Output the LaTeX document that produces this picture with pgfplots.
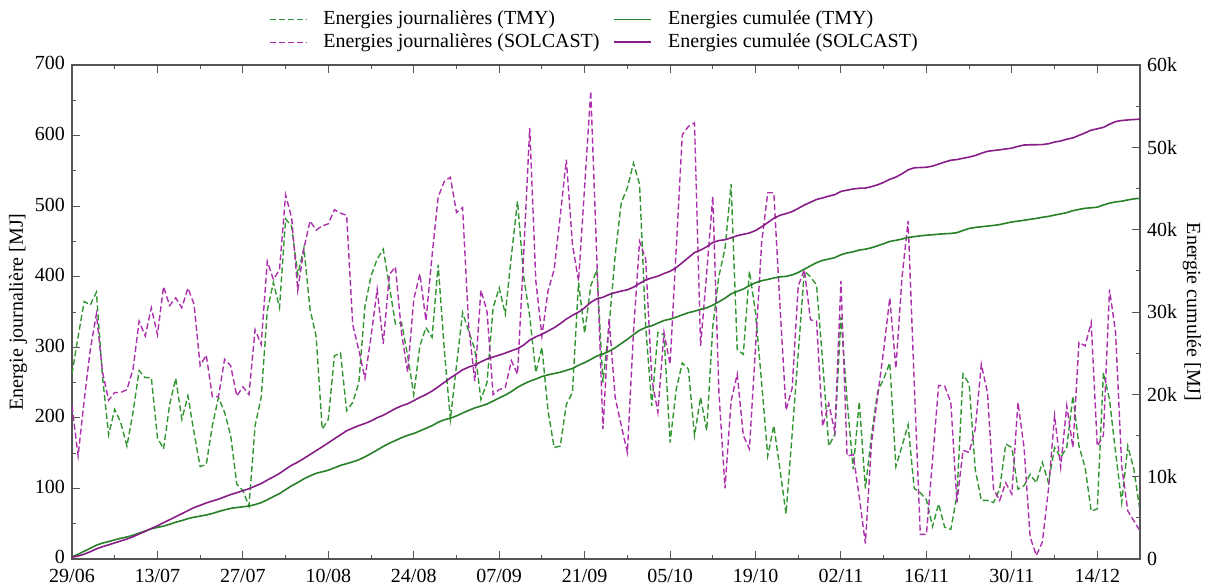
\documentclass[border=0pt]{standalone}
\usepackage{fontspec}
\setmainfont{Liberation Serif}
\usepackage{pgfplots}
\usepackage{pgfplotstable}
\pgfplotsset{compat=1.18}
\definecolor{tmy}{RGB}{50,150,50}
\definecolor{tmyc}{RGB}{40,128,40}
\definecolor{sol}{RGB}{172,48,172}
\definecolor{solc}{RGB}{135,30,135}
\definecolor{axc}{RGB}{85,85,85}

\pgfplotstableread{
d tmy sol ctmy csol
0 262 217 262 217
1 315 146 577 363
2 365 225 942 588
3 360 297 1302 885
4 378 347 1680 1232
5 258 265 1938 1497
6 176 225 2114 1722
7 212 236 2326 1958
8 193 236 2519 2194
9 160 240 2679 2434
10 208 269 2887 2703
11 267 337 3154 3040
12 257 316 3411 3356
13 257 356 3668 3712
14 172 318 3840 4030
15 156 386 3996 4416
16 219 359 4215 4775
17 256 370 4471 5145
18 198 356 4669 5501
19 231 384 4900 5885
20 179 361 5079 6246
21 131 274 5210 6520
22 134 289 5344 6809
23 189 230 5533 7039
24 229 230 5762 7269
25 208 283 5970 7552
26 175 274 6145 7826
27 106 231 6251 8057
28 97 244 6348 8301
29 75 233 6423 8534
30 189 325 6612 8859
31 229 304 6841 9163
32 352 422 7193 9585
33 392 396 7585 9981
34 356 410 7941 10391
35 482 516 8423 10907
36 471 483 8894 11390
37 403 381 9297 11771
38 441 440 9738 12211
39 354 479 10092 12690
40 316 466 10408 13156
41 184 472 10592 13628
42 198 475 10790 14103
43 288 495 11078 14598
44 292 490 11370 15088
45 210 487 11580 15575
46 222 332 11802 15907
47 250 296 12052 16203
48 358 256 12410 16459
49 401 315 12811 16774
50 425 382 13236 17156
51 439 305 13675 17461
52 387 403 14062 17864
53 333 414 14395 18278
54 335 320 14730 18598
55 288 265 15018 18863
56 233 368 15251 19231
57 302 404 15553 19635
58 328 338 15881 19973
59 314 430 16195 20403
60 417 513 16612 20916
61 297 535 16909 21451
62 198 541 17107 21992
63 274 491 17381 22483
64 349 498 17730 22981
65 323 330 18053 23311
66 297 252 18350 23563
67 226 381 18576 23944
68 250 351 18826 24295
69 356 233 19182 24528
70 384 240 19566 24768
71 347 243 19913 25011
72 430 281 20343 25292
73 507 262 20850 25554
74 401 430 21251 25984
75 344 611 21595 26595
76 264 394 21859 26989
77 300 316 22159 27305
78 210 380 22369 27685
79 158 410 22527 28095
80 160 486 22687 28581
81 219 566 22906 29147
82 236 446 23142 29593
83 392 394 23534 29987
84 320 528 23854 30515
85 387 663 24241 31178
86 410 425 24651 31603
87 250 184 24901 31787
88 330 340 25231 32127
89 430 229 25661 32356
90 505 189 26166 32545
91 526 151 26692 32696
92 561 321 27253 33017
93 531 450 27784 33467
94 330 425 28114 33892
95 217 255 28331 34147
96 321 208 28652 34355
97 318 321 28970 34676
98 165 276 29135 34952
99 240 439 29375 35391
100 278 601 29653 35992
101 269 613 29922 36605
102 175 618 30097 37223
103 229 302 30326 37525
104 182 406 30508 37931
105 330 514 30838 38445
106 401 236 31239 38681
107 440 100 31679 38781
108 531 224 32210 39005
109 297 262 32507 39267
110 290 175 32797 39442
111 408 156 33205 39598
112 349 300 33554 39898
113 250 448 33804 40346
114 146 519 33950 40865
115 189 519 34139 41384
116 127 360 34266 41744
117 64 211 34330 41955
118 177 242 34507 42197
119 292 387 34799 42584
120 408 410 35207 42994
121 400 339 35607 43333
122 388 337 35995 43670
123 280 188 36275 43858
124 160 220 36435 44078
125 177 180 36612 44258
126 343 394 36955 44652
127 225 146 37180 44798
128 127 148 37307 44946
129 223 88 37530 45034
130 100 22 37630 45056
131 175 164 37805 45220
132 237 230 38042 45450
133 255 296 38297 45746
134 278 370 38575 46116
135 131 270 38706 46386
136 160 399 38866 46785
137 190 479 39056 47264
138 100 250 39156 47514
139 94 35 39250 47549
140 84 35 39334 47584
141 46 140 39380 47724
142 78 246 39458 47970
143 45 245 39503 48215
144 42 222 39545 48437
145 90 80 39635 48517
146 262 154 39897 48671
147 248 151 40145 48822
148 127 184 40272 49006
149 83 276 40355 49282
150 83 236 40438 49518
151 80 99 40518 49617
152 99 83 40617 49700
153 163 108 40780 49808
154 158 92 40938 49900
155 99 222 41037 50122
156 104 158 41141 50280
157 120 31 41261 50311
158 108 5 41369 50316
159 137 24 41506 50340
160 108 99 41614 50439
161 158 203 41772 50642
162 144 130 41916 50772
163 158 217 42074 50989
164 231 158 42305 51147
165 160 307 42465 51454
166 130 302 42595 51756
167 68 335 42663 52091
168 71 160 42734 52251
169 264 175 42998 52426
170 226 382 43224 52808
171 151 321 43375 53129
172 80 132 43455 53261
173 160 68 43615 53329
174 127 54 43742 53383
175 68 40 43810 53423
}\data

\begin{document}
\begin{tikzpicture}
\path[use as bounding box] (-36pt,-13pt) rectangle (568pt,279.5pt);
\pgfplotsset{
  common/.style={
    scale only axis, width=534pt, height=247pt,
    at={(0,0)}, anchor=south west,
    xmin=0, xmax=175,
    tick align=inside,
    major tick length=4pt, minor tick length=2pt,
    every tick label/.append style={font=\fontsize{10}{12}\selectfont, black},
    /pgf/number format/assume math mode=true,
    axis line style={axc, line width=0.6pt},
    every tick/.style={axc, line width=0.5pt},
    every minor tick/.style={axc, line width=0.5pt},
    label style={font=\fontsize{10}{12}\selectfont},
  },
  daily/.style={line width=0.7pt, dash pattern=on 3pt off 1.5pt},
  cumul/.style={line width=0.8pt},
}
\begin{axis}[common,
  ymin=0, ymax=700, ytick={0,100,...,700}, minor ytick={50,150,...,650},
  ytick pos=left,
  xtick={0,14,...,168},
  xticklabels={29/06,13/07,27/07,10/08,24/08,07/09,21/09,05/10,19/10,02/11,16/11,30/11,14/12},
  minor xtick={7,21,...,175},
  xtick pos=both,
  xticklabel style={yshift=-1.5pt},
  yticklabel style={yshift=0.8pt},
  ylabel={Energie journalière [MJ]},
  ylabel style={at={(axis description cs:-0.0506,0.5)}, anchor=center},
]
\addplot[tmy, daily] table[x=d,y=tmy]{\data};
\addplot[sol, daily] table[x=d,y=sol]{\data};
\end{axis}
\begin{axis}[common,
  ymin=0, ymax=60000,
  axis y line*=right, hide x axis,
  ytick={0,10000,...,60000},
  yticklabels={0,10k,20k,30k,40k,50k,60k},
  minor ytick={5000,15000,...,55000},
  scaled y ticks=false,
  ylabel={Energie cumulée [MJ]},
  ylabel style={at={(axis description cs:1.0487,0.5)}, anchor=center, rotate=180},
  legend columns=2,
  legend cell align=left,
  legend style={draw=none, fill=none, at={(axis description cs:0.490,1.012)}, anchor=south,
    font=\fontsize{10}{12}\selectfont, row sep=-1pt,
    /tikz/every odd column/.append style={column sep=6pt},
    /tikz/every even column/.append style={column sep=5pt}},
  legend image code/.code={\draw[#1] (0cm,0cm) -- (0.65cm,0cm);},
]
\addlegendimage{tmy, daily}
\addlegendentry{Energies journalières (TMY)}
\addplot[tmyc, cumul] table[x=d,y=ctmy]{\data};
\addlegendentry{Energies cumulée (TMY)}
\addlegendimage{sol, daily}
\addlegendentry{Energies journalières (SOLCAST)}
\addplot[solc, cumul] table[x=d,y=csol]{\data};
\addlegendentry{Energies cumulée (SOLCAST)}
\end{axis}
\end{tikzpicture}
\end{document}
